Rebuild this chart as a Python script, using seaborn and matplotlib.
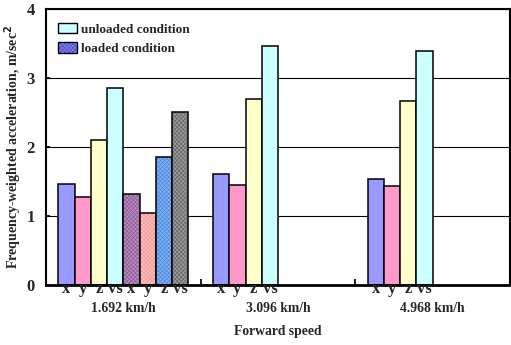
import matplotlib
matplotlib.use('Agg')
import matplotlib.pyplot as plt
import seaborn as sns
import pandas as pd
from matplotlib.patches import Patch
from matplotlib.transforms import blended_transform_factory

speeds = ['1.692 km/h', '3.096 km/h', '4.968 km/h']
components = ['x', 'y', 'z', 'vs']
unloaded_x = [1.47, 1.61, 1.54]
unloaded_y = [1.27, 1.45, 1.44]
unloaded_z = [2.10, 2.70, 2.67]
unloaded_vs = [2.86, 3.46, 3.39]
loaded_x = [1.32]
loaded_y = [1.05]
loaded_z = [1.86]
loaded_vs = [2.51]

unloaded = [unloaded_x, unloaded_y, unloaded_z, unloaded_vs]
loaded = [loaded_x, loaded_y, loaded_z, loaded_vs]

rows = []
hue_order = []
bar_labels = []
for comp, vals in zip(components, unloaded):
    key = 'unloaded ' + comp
    hue_order.append(key)
    bar_labels.append(comp)
    for s, v in zip(speeds, vals):
        rows.append({'speed': s, 'series': key, 'value': v})
for comp, vals in zip(components, loaded):
    key = 'loaded ' + comp
    hue_order.append(key)
    bar_labels.append(comp)
    for s, v in zip(speeds, vals):
        rows.append({'speed': s, 'series': key, 'value': v})
df = pd.DataFrame(rows)

face_colors = ['#9999FF', '#FF99CC', '#FFFFCC', '#CCFFFF',
               '#B888C0', '#FFBCBC', '#80B0F4', '#9A9A9A']
hatch_colors = [None, None, None, None,
                '#8C5C94', '#F09C9C', '#5088D8', '#686868']

sns.set_theme(style='white')
plt.rcParams['font.family'] = ['Liberation Serif', 'DejaVu Serif']
plt.rcParams['font.weight'] = 'bold'
plt.rcParams['hatch.linewidth'] = 0.5

fig = plt.figure(figsize=(5.11, 3.45), dpi=100)
ax = fig.add_axes([46 / 511, 60 / 345, 464 / 511, 276 / 345])

sns.barplot(data=df, x='speed', y='value', hue='series', order=speeds,
            hue_order=hue_order, palette=face_colors, width=0.84,
            errorbar=None, edgecolor='black', linewidth=1.1, saturation=1,
            legend=False, ax=ax)

trans_lab = blended_transform_factory(ax.transData, fig.transFigure)
for i, cont in enumerate(ax.containers):
    for p in cont.patches:
        if p.get_height() != p.get_height() or p.get_height() == 0:
            continue
        if hatch_colors[i] is not None:
            p.set_hatch('xxxxxxxx')
            p._hatch_color = matplotlib.colors.to_rgba(hatch_colors[i])
        cx = p.get_x() + p.get_width() / 2
        ax.text(cx, 1 - 293 / 345, bar_labels[i], transform=trans_lab,
                ha='center', va='baseline', fontsize=12, fontweight='bold')

ax.set_ylim(0, 4)
ax.set_xlim(-0.5, 2.5)
ax.set_yticks([0, 1, 2, 3, 4])
ax.set_yticklabels(['0', '1', '2', '3', '4'], fontsize=12, fontweight='bold')
ax.tick_params(axis='y', direction='in', length=3, pad=8, left=True, color='black')
ax.set_xticks([0.5, 1.5])
ax.set_xticklabels([])
ax.tick_params(axis='x', direction='in', length=4, bottom=True, color='black')
ax.yaxis.grid(True, color='black', linewidth=0.8)
ax.set_axisbelow(True)
for sp in ax.spines.values():
    sp.set_color('black')
    sp.set_linewidth(1.5)
ax.spines['bottom'].set_linewidth(2)
ax.set_xlabel('')
ax.set_ylabel('')

for i, s in enumerate(speeds):
    ax.text(i, 1 - 312 / 345, s, transform=trans_lab, ha='center',
            va='baseline', fontsize=9.8, fontweight='bold')

fig.text((46 + 232) / 511, 1 - 335 / 345, 'Forward speed', ha='center',
         va='baseline', fontsize=9.8, fontweight='bold')
fig.text(13 / 511, 1 - 147 / 345, 'Frequency-weighted acceleration, m/sec$^2$',
         rotation=90, ha='center', va='center', fontsize=10, fontweight='bold')

h_unl = Patch(facecolor='#CCFFFF', edgecolor='black', linewidth=1.0)
h_lod = Patch(facecolor='#8080F4', edgecolor='black', linewidth=1.0, hatch='xxxxxxxx')
leg = ax.legend([h_unl, h_lod], ['unloaded condition', 'loaded condition'],
                loc='upper left', bbox_to_anchor=(0.026, 0.95), frameon=False,
                borderaxespad=0, borderpad=0,
                handlelength=1.45, handleheight=0.85, handletextpad=0.3,
                labelspacing=0.5, prop={'weight': 'bold', 'size': 9.5})
leg.legend_handles[1]._hatch_color = matplotlib.colors.to_rgba('#5050C8')

fig.savefig('out.png', dpi=100)
